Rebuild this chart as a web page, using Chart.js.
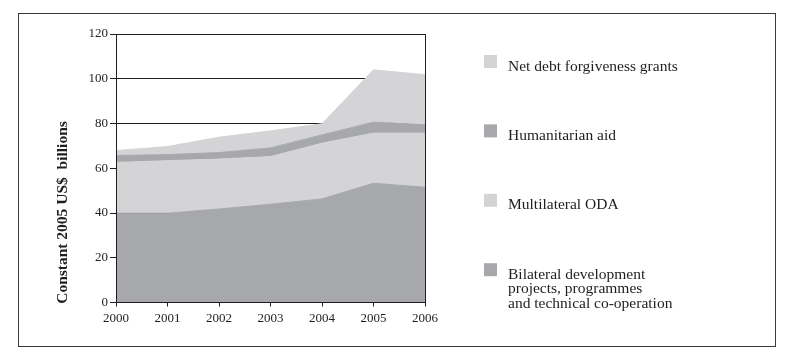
<!DOCTYPE html>
<html><head><meta charset="utf-8">
<script src="https://cdn.jsdelivr.net/npm/chart.js@4"></script>
<style>html,body{margin:0;padding:0;background:#fff}</style>
</head><body>
<canvas id="c" width="800" height="355"></canvas>
<script>
const years = ['2000','2001','2002','2003','2004','2005','2006'];
const bilateral    = [39.9, 39.9, 41.8, 43.9, 46.3, 53.3, 51.5];
const multilateral = [22.7, 23.5, 22.3, 21.3, 24.9, 22.4, 24.2];
const humanitarian = [3.1, 2.7, 2.9, 3.9, 3.7, 4.9, 3.7];
const debtRelief   = [2.2, 3.6, 6.9, 7.6, 5.0, 23.4, 22.4];
const seriesNames = [
  'Bilateral development\nprojects, programmes\nand technical co-operation',
  'Multilateral ODA',
  'Humanitarian aid',
  'Net debt forgiveness grants'
];
const yTickValues = [0, 20, 40, 60, 80, 100, 120];
const yTitle = 'Constant 2005 US$  billions';

const DARK = '#a7a8ac';
const LIGHT = '#d4d4d6';
const INK = '#1e1e1e';
const SERIF = '"Liberation Serif", "DejaVu Serif", serif';

function ds(label, data, color, fill) {
  return { label, data, backgroundColor: color, borderColor: color, borderWidth: 1,
           pointRadius: 0, fill, tension: 0 };
}

const decor = {
  id: 'decor',
  beforeDraw(chart) {
    const c = chart.ctx;
    c.save();
    c.fillStyle = '#fff';
    c.fillRect(0, 0, chart.width, chart.height);
    c.strokeStyle = '#3a3a3a';
    c.lineWidth = 1;
    c.strokeRect(18.5, 13.5, 757, 333);
    c.restore();
  },
  afterDatasetsDraw(chart) {
    const c = chart.ctx, a = chart.chartArea;
    c.save();
    c.strokeStyle = INK;
    c.lineWidth = 1;
    const xr = Math.round(a.right) + 0.5;
    c.beginPath();
    c.moveTo(xr, a.top);
    c.lineTo(xr, a.bottom);
    c.stroke();
    c.restore();
  },
  afterDraw(chart) {
    const c = chart.ctx;
    c.save();
    c.translate(63, 212.5);
    c.rotate(-Math.PI / 2);
    c.fillStyle = INK;
    c.font = 'bold 15.5px ' + SERIF;
    c.textAlign = 'center';
    c.textBaseline = 'middle';
    c.fillText(yTitle, 0, 0);
    c.restore();
    c.save();
    const dsets = chart.data.datasets;
    c.font = '15.5px ' + SERIF;
    c.textAlign = 'left';
    c.textBaseline = 'alphabetic';
    for (let i = 0; i < dsets.length; i++) {
      const d = dsets[dsets.length - 1 - i];
      const top = 55 + i * 69.4;
      c.fillStyle = d.backgroundColor;
      c.fillRect(484, top, 13, 13);
      c.fillStyle = INK;
      d.label.split('\n').forEach((ln, k) => c.fillText(ln, 508, top + 15.5 + k * 14.7));
    }
    c.restore();
  }
};

new Chart(document.getElementById('c'), {
  type: 'line',
  data: {
    labels: years,
    datasets: [
      ds(seriesNames[0], bilateral, DARK, 'origin'),
      ds(seriesNames[1], multilateral, LIGHT, '-1'),
      ds(seriesNames[2], humanitarian, DARK, '-1'),
      ds(seriesNames[3], debtRelief, LIGHT, '-1')
    ]
  },
  options: {
    responsive: false,
    animation: false,
    layout: { padding: { left: 0, top: 34, right: 375, bottom: 0 } },
    plugins: { legend: { display: false }, tooltip: { enabled: false } },
    scales: {
      x: {
        offset: false,
        grid: { drawOnChartArea: false, tickLength: 4, tickColor: INK, color: INK },
        border: { display: true, color: INK, width: 1, z: 1 },
        ticks: { color: INK, font: { family: SERIF, size: 13 }, padding: 4, maxRotation: 0, autoSkip: false },
        afterFit(s) { s.height = 52.5; }
      },
      y: {
        stacked: true,
        min: 0, max: 120,
        afterBuildTicks(s) { s.ticks = yTickValues.map(v => ({ value: v })); },
        grid: { color: INK, lineWidth: 1, tickLength: 6, tickColor: INK },
        border: { display: true, color: INK, width: 1, z: 1 },
        ticks: { color: INK, font: { family: SERIF, size: 13 }, padding: 2 },
        afterFit(s) { s.width = 116; }
      }
    }
  },
  plugins: [decor]
});
</script>
</body></html>
